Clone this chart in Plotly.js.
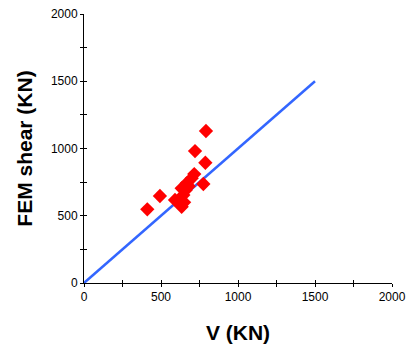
<!DOCTYPE html>
<html>
<head>
<meta charset="utf-8">
<script src="https://cdn.plot.ly/plotly-3.0.1.min.js"></script>
<style>html,body{margin:0;padding:0;background:#fff;}#chart{width:406px;height:347px;}</style>
</head>
<body>
<div id="chart"></div>
<script>
const vKN = [411, 493, 591, 619, 634, 645, 634, 660, 666, 680, 699, 716, 721, 775, 788, 792, 650];
const femShear = [548, 647, 617, 622, 567, 654, 704, 690, 741, 720, 778, 810, 981, 736, 894, 1130, 600];
const lineX = [0, 1500];
const lineY = [0, 1500];
const tickVals = [0, 500, 1000, 1500, 2000];
const tickText = ['0', '500', '1000', '1500', '2000'];

const font = {family: 'Liberation Sans, Arial, sans-serif', size: 12, color: '#000'};
const titleFont = {family: 'Liberation Sans, Arial, sans-serif', size: 21, color: '#000'};
const baseAxis = {
  range: [0, 2000], showgrid: false, zeroline: false, showline: true, linecolor: '#000', linewidth: 1,
  ticks: 'outside', ticklen: 3, tickcolor: '#000', tickwidth: 1,
  tickvals: tickVals, ticktext: tickText, tickfont: font,
  minor: {ticks: 'outside', ticklen: 3, tickcolor: '#000', dtick: 250, tick0: 0, showgrid: false},
  fixedrange: true
};
const overAxis = {
  range: [0, 2000], showgrid: false, zeroline: false, showline: false,
  ticks: 'inside', ticklen: 3, tickcolor: '#000', tickwidth: 1,
  tickmode: 'linear', tick0: 0, dtick: 250, showticklabels: false, fixedrange: true
};

const data = [
  {x: lineX, y: lineY, mode: 'lines', line: {color: '#3366ff', width: 2.5}, xaxis: 'x', yaxis: 'y', hoverinfo: 'skip'},
  {x: vKN, y: femShear, mode: 'markers', marker: {symbol: 'diamond', size: 11, color: '#ff0000'}, xaxis: 'x2', yaxis: 'y2'}
];

const layout = {
  width: 406, height: 347,
  margin: {l: 84, r: 14, t: 14, b: 64},
  paper_bgcolor: '#fff', plot_bgcolor: '#fff',
  showlegend: false,
  xaxis: Object.assign({}, baseAxis, {
    title: {text: '<b>V (KN)</b>', font: titleFont, standoff: 21}
  }),
  yaxis: Object.assign({}, baseAxis, {
    title: {text: '<b>FEM shear (KN)</b>', font: titleFont, standoff: 12}
  }),
  xaxis2: Object.assign({}, overAxis, {overlaying: 'x', anchor: 'y2'}),
  yaxis2: Object.assign({}, overAxis, {overlaying: 'y', anchor: 'x2'})
};

Plotly.newPlot('chart', data, layout, {displayModeBar: false, staticPlot: true});
</script>
</body>
</html>
